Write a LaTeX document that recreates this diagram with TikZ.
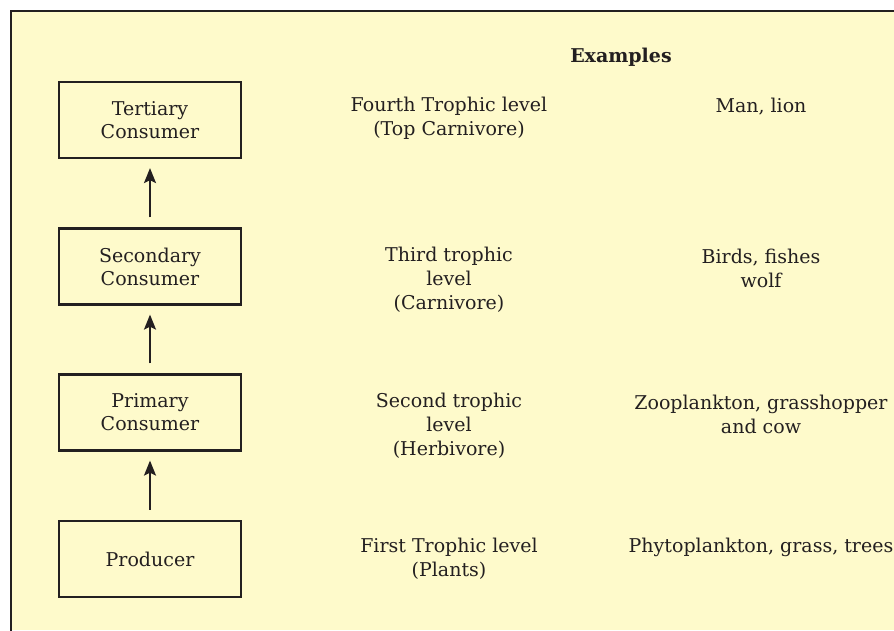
\documentclass[tikz,border=0pt]{standalone}
\usepackage{fontspec}
\setmainfont{DejaVu Serif}
\usetikzlibrary{arrows.meta}
\definecolor{bgyellow}{HTML}{FEFACB}
\definecolor{ink}{HTML}{231F20}
\begin{document}
\begin{tikzpicture}[x=1pt,y=-1pt,
  level/.style={draw=ink, line width=2.2pt, minimum width=182pt, minimum height=76pt, inner sep=0pt, align=center, font=\fontsize{19}{23}\selectfont, text=ink},
  txt/.style={align=center, font=\fontsize{19}{24}\selectfont, text=ink, inner sep=0pt},
  up/.style={-{Stealth[length=15pt,width=12pt,inset=3pt]}, line width=2pt, draw=ink, shorten <=10pt, shorten >=9pt}]
\useasboundingbox (0,0) rectangle (894,630);
\fill[white] (0,0) rectangle (894,630);
\fill[bgyellow] (11,11) rectangle (894,630);
\draw[ink, line width=2pt] (11,631) -- (11,11) -- (895,11);

\node[level] (ter) at (150,120) {Tertiary\\Consumer};
\node[level] (sec) at (150,266.5) {Secondary\\Consumer};
\node[level] (pri) at (150,412.5) {Primary\\Consumer};
\node[level] (pro) at (150,559) {Producer};

\draw[up] (sec.north) -- (ter.south);
\draw[up] (pri.north) -- (sec.south);
\draw[up] (pro.north) -- (pri.south);

\node[txt, font=\fontsize{19}{24}\selectfont\bfseries] (ex) at (621,57) {Examples};

\node[txt] (l4) at (449,118) {Fourth Trophic level\\(Top Carnivore)};
\node[txt] (l3) at (449,280) {Third trophic\\level\\(Carnivore)};
\node[txt] (l2) at (449,426) {Second trophic\\level\\(Herbivore)};
\node[txt] (l1) at (449,559) {First Trophic level\\(Plants)};

\node[txt] (e4) at (761,107) {Man, lion};
\node[txt] (e3) at (761,268) {Birds, fishes\\wolf};
\node[txt] (e2) at (761,414) {Zooplankton, grasshopper\\and cow};
\node[txt] (e1) at (761,547) {Phytoplankton, grass, trees};
\end{tikzpicture}
\end{document}
